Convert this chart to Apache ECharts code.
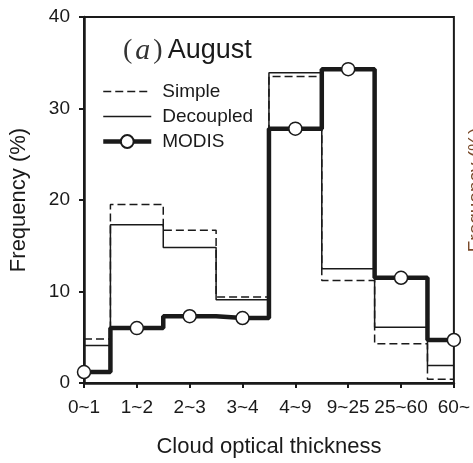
<!DOCTYPE html>
<html>
<head>
<meta charset="utf-8">
<script src="https://cdn.jsdelivr.net/npm/echarts@6/dist/echarts.min.js"></script>
<style>
  html, body { margin: 0; padding: 0; background: #fff; }
  #chart { width: 473px; height: 463px; }
</style>
</head>
<body>
<div id="chart"></div>
<script>
// Cloud optical thickness bins
const categories = ['0~1', '1~2', '2~3', '3~4', '4~9', '9~25', '25~60', '60~'];
// Frequency (%) per bin
const simple    = [4.8, 19.5, 16.7, 9.4, 33.5, 11.2, 4.3, 0.4];
const decoupled = [4.1, 17.3, 14.8, 9.1, 33.9, 12.5, 6.1, 1.9];
const modis     = [1.2, 6.0, 7.3, 7.1, 27.8, 34.3, 11.5, 4.7];
const yTicks = { min: 0, max: 40, interval: 10 };

const ink = '#1a1a1a';
const sans = 'Liberation Sans';

const chart = echarts.init(document.getElementById('chart'), null, { renderer: 'canvas' });

chart.setOption({
  backgroundColor: '#fff',
  animation: false,
  title: {
    left: 118,
    top: 31,
    text: '{p|(}{i|a}{p|)} {s|August}',
    textStyle: {
      fontWeight: 'normal',
      rich: {
        p: { fontFamily: 'Liberation Serif', fontWeight: 'normal', fontSize: 28, color: '#333' },
        i: { fontFamily: 'Liberation Serif', fontStyle: 'italic', fontWeight: 'normal', fontSize: 30, color: '#333', padding: [0, 3, 0, 3] },
        s: { fontFamily: sans, fontWeight: 'normal', fontSize: 27, color: ink }
      }
    }
  },
  legend: {
    orient: 'vertical',
    left: 101,
    top: 82,
    padding: 0,
    itemWidth: 48,
    itemHeight: 16,
    itemGap: 6,
    textStyle: { fontFamily: sans, fontSize: 19, color: ink, padding: [0, 0, 0, 6] },
    data: [
      { name: 'Simple', itemStyle: { opacity: 0 }, lineStyle: { width: 1.5 } },
      { name: 'Decoupled', itemStyle: { opacity: 0 }, lineStyle: { width: 1.5 } },
      { name: 'MODIS', lineStyle: { width: 4.5 } }
    ]
  },
  grid: {
    left: 83,
    right: 18,
    top: 17,
    bottom: 74,
    show: true,
    borderColor: ink,
    borderWidth: 2,
    containLabel: false
  },
  xAxis: {
    type: 'category',
    data: categories,
    boundaryGap: false,
    name: 'Cloud optical thickness',
    nameLocation: 'middle',
    nameGap: 53,
    nameTextStyle: { fontFamily: sans, fontSize: 22, color: ink },
    axisLine: { lineStyle: { color: ink, width: 2.5 } },
    axisTick: { show: true, inside: false, length: 5, lineStyle: { color: ink, width: 2 } },
    axisLabel: { fontFamily: sans, fontSize: 19, color: ink, margin: 15, interval: 0 },
    splitLine: { show: false }
  },
  yAxis: {
    type: 'value',
    min: yTicks.min,
    max: yTicks.max,
    interval: yTicks.interval,
    name: 'Frequency (%)',
    nameLocation: 'middle',
    nameGap: 54,
    nameTextStyle: { fontFamily: sans, fontSize: 22, color: ink },
    axisLine: { show: true, lineStyle: { color: ink, width: 2.5 } },
    axisTick: { show: true, inside: false, length: 5, lineStyle: { color: ink, width: 2 } },
    axisLabel: { fontFamily: sans, fontSize: 19, color: ink, margin: 14 },
    splitLine: { show: false }
  },
  series: [
    {
      name: 'Simple',
      type: 'line',
      step: 'middle',
      data: simple,
      symbol: 'none',
      clip: false,
      lineStyle: { color: ink, width: 1.5, type: [8, 4] },
      itemStyle: { color: ink },
      z: 2
    },
    {
      name: 'Decoupled',
      type: 'line',
      step: 'middle',
      data: decoupled,
      symbol: 'none',
      clip: false,
      lineStyle: { color: ink, width: 1.5 },
      itemStyle: { color: ink },
      z: 3
    },
    {
      name: 'MODIS',
      type: 'line',
      step: 'middle',
      data: modis,
      symbol: 'circle',
      symbolSize: 13,
      showAllSymbol: true,
      clip: false,
      lineStyle: { color: ink, width: 4.5 },
      itemStyle: { color: '#fff', borderColor: ink, borderWidth: 1.5 },
      z: 4
    }
  ],
  graphic: [
    {
      // y-axis title of the adjacent panel, cut off at the right edge
      type: 'text',
      x: 466,
      y: 190,
      rotation: Math.PI / 2,
      style: {
        text: 'Frequency (%)',
        fontFamily: sans,
        fontSize: 19,
        fill: '#7a4a2a',
        align: 'center',
        verticalAlign: 'top'
      }
    }
  ]
});
</script>
</body>
</html>
